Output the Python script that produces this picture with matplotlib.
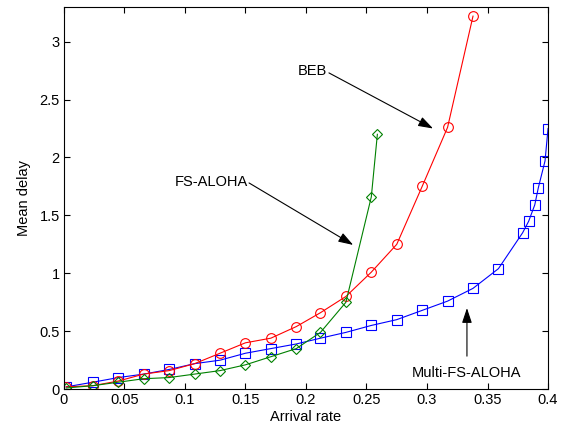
import numpy as np
import matplotlib.pyplot as plt

plt.rcParams['font.family'] = ['Liberation Sans', 'DejaVu Sans']

# Data
x_common = [0.002, 0.024, 0.045, 0.066, 0.087, 0.108, 0.129, 0.150, 0.171, 0.192, 0.212, 0.233]

x_multi = x_common + [0.254, 0.275, 0.296, 0.317, 0.338, 0.359, 0.379, 0.384, 0.389, 0.392, 0.3975, 0.400]
y_multi = [0.02, 0.06, 0.10, 0.13, 0.17, 0.22, 0.25, 0.31, 0.35, 0.39, 0.44, 0.49,
           0.55, 0.60, 0.68, 0.76, 0.87, 1.04, 1.35, 1.45, 1.59, 1.74, 1.97, 2.25]

x_beb = x_common + [0.254, 0.275, 0.296, 0.317, 0.338]
y_beb = [0.02, 0.03, 0.07, 0.13, 0.16, 0.22, 0.31, 0.40, 0.44, 0.54, 0.66, 0.80,
         1.01, 1.25, 1.75, 2.26, 3.22]

x_fs = x_common + [0.254, 0.259]
y_fs = [0.01, 0.03, 0.06, 0.09, 0.10, 0.13, 0.16, 0.21, 0.28, 0.35, 0.49, 0.75,
        1.66, 2.20]

fig = plt.figure(figsize=(5.65, 4.3), dpi=100)
ax = fig.add_axes([0.113, 0.095, 0.857, 0.889])

ax.plot(x_multi, y_multi, color='blue', lw=0.8, marker='s', ms=7, mfc='none', mec='blue', mew=0.8)
ax.plot(x_beb, y_beb, color='red', lw=0.8, marker='o', ms=7, mfc='none', mec='red', mew=0.8)
ax.plot(x_fs, y_fs, color='green', lw=0.8, marker='D', ms=5, mfc='none', mec='green', mew=0.8)

# labels and arrows (text placed separately so arrows start at the text edge)
arrow = dict(arrowstyle='-|>,head_length=0.9,head_width=0.3', color='black', lw=0.8,
             shrinkA=0, shrinkB=0)
ax.text(0.205, 2.75, 'BEB', fontsize=10.5, ha='center', va='center')
ax.annotate('', xy=(0.305, 2.25), xytext=(0.219, 2.73), arrowprops=arrow)
ax.text(0.1215, 1.79, 'FS-ALOHA', fontsize=10.5, ha='center', va='center')
ax.annotate('', xy=(0.239, 1.245), xytext=(0.153, 1.78), arrowprops=arrow)
ax.text(0.333, 0.138, 'Multi-FS-ALOHA', fontsize=10.5, ha='center', va='center')
ax.annotate('', xy=(0.333, 0.70), xytext=(0.333, 0.285), arrowprops=arrow)

ax.set_xlim(0, 0.4)
ax.set_ylim(0, 3.3)
ax.set_xticks(np.arange(0, 0.401, 0.05))
ax.set_xticklabels(['0', '0.05', '0.1', '0.15', '0.2', '0.25', '0.3', '0.35', '0.4'])
ax.set_yticks(np.arange(0, 3.01, 0.5))
ax.set_yticklabels(['0', '0.5', '1', '1.5', '2', '2.5', '3'])
ax.tick_params(direction='in', top=True, right=True, labelsize=10.5, length=4, pad=3)
ax.set_xlabel('Arrival rate', fontsize=10.5, labelpad=2)
ax.set_ylabel('Mean delay', fontsize=10.5, labelpad=6)
for s in ax.spines.values():
    s.set_linewidth(0.8)

fig.savefig('out.png', dpi=100)
